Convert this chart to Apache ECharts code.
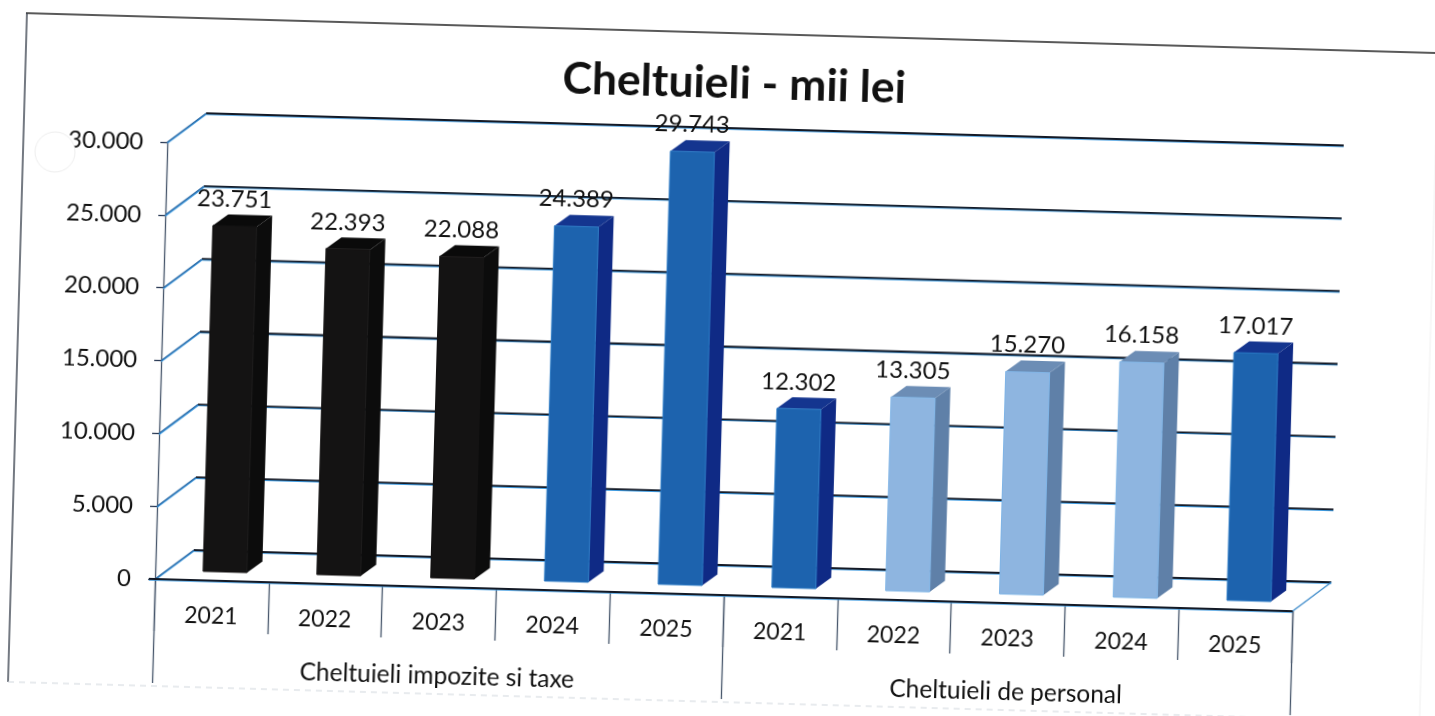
<!DOCTYPE html>
<html>
<head>
<meta charset="utf-8">
<title>Cheltuieli - mii lei</title>
<script src="https://cdn.jsdelivr.net/npm/echarts@6/dist/echarts.min.js"></script>
<style>
html,body{margin:0;padding:0;background:#fff;overflow:hidden;width:1435px;height:716px}
#chart{position:absolute;left:-50px;top:-50px;width:1535px;height:816px;transform-origin:205px 629px;transform:rotate(1.62deg)}
</style>
</head>
<body>
<div id="chart"></div>
<script>
const years = ['2021','2022','2023','2024','2025','2021','2022','2023','2024','2025'];
const groups = ['Cheltuieli impozite si taxe','Cheltuieli de personal'];
const values = [23751,22393,22088,24389,29743,12302,13305,15270,16158,17017];
const yTicks = [0,5000,10000,15000,20000,25000,30000];
const barTones = ['black','black','black','blue','blue','blue','light','light','light','blue'];

const tones = {
  black:{front:'#141313',side:'#0c0c0c',top:'#0a0a0a',edge:'#141313'},
  blue:{front:'#1d63ae',side:'#0f2a85',top:'#14358f',edge:'#2878c4'},
  light:{front:'#8eb5e0',side:'#5f80a8',top:'#6c8db5',edge:'#7fb4e6'}
};
const DEPTH_X = 38, DEPTH_Y = -30;
const BAR_W = 44, BAR_DX = 13, BAR_DY = -9, SIDE_X = 15, SIDE_Y = -11.5;
const fmt = v => String(v).replace(/\B(?=(\d{3})+$)/g,'.');
const FONT = 'Lato';

function renderWall(params, api){
  const v = api.value(1);
  const cs = params.coordSys;
  const y = api.coord([0, v])[1];
  const L = cs.x, R = cs.x + cs.width;
  const mk = (pts, color, w) => ({type:'polyline',shape:{points:pts},style:{stroke:color,lineWidth:w,fill:null}});
  const wall = [[L,y],[L+DEPTH_X,y+DEPTH_Y],[R+DEPTH_X,y+DEPTH_Y]];
  const children = [];
  children.push(mk(wall.map(p=>[p[0],p[1]+1]),'#3f9be0',1.5));
  children.push(mk(wall.slice(1),'#141a26',1.8));
  children.push(mk(wall.slice(0,2),'#2b6aa6',1.2));
  if (v === 0){
    children.push(mk([[L-6,y+1],[R,y+1]],'#3f9be0',1.5));
    children.push(mk([[L-6,y],[R,y]],'#141a26',2));
    children.push(mk([[R,y],[R+DEPTH_X,y+DEPTH_Y]],'#3f8ccb',1.3));
  }
  return {type:'group',children};
}

function renderBar(params, api){
  const i = api.value(0), v = api.value(1);
  const c = api.coord([i, v]), b = api.coord([i, 0]);
  const x0 = c[0] + BAR_DX - BAR_W/2, x1 = x0 + BAR_W;
  const yt = c[1] + BAR_DY, yb = b[1] + BAR_DY;
  const t = tones[barTones[i]];
  const poly = (pts, fill) => ({type:'polygon',shape:{points:pts},style:{fill}});
  return {type:'group',children:[
    poly([[x1,yt],[x1+SIDE_X,yt+SIDE_Y],[x1+SIDE_X,yb+SIDE_Y],[x1,yb]],t.side),
    poly([[x0,yt],[x0+SIDE_X,yt+SIDE_Y],[x1+SIDE_X,yt+SIDE_Y],[x1,yt]],t.top),
    {type:'rect',shape:{x:x0,y:yt,width:BAR_W,height:yb-yt},style:{fill:t.front,stroke:t.edge,lineWidth:1}},
    {type:'text',x:c[0]+BAR_DX-1,y:yt-27,style:{text:fmt(v),font:'24px '+FONT,fill:'#111',align:'center',verticalAlign:'middle'},z2:10}
  ]};
}

const chart = echarts.init(document.getElementById('chart'),null,{devicePixelRatio:1});
chart.setOption({
  animation:false,
  backgroundColor:'#fff',
  title:{text:'Cheltuieli - mii lei',left:765,top:90,textAlign:'center',
    textStyle:{fontFamily:FONT,fontWeight:'bold',fontSize:44.5,color:'#111'}},
  grid:{left:205,top:192,width:1138,height:437,containLabel:false,outerBoundsMode:'none'},
  xAxis:[
    {type:'category',data:years,position:'bottom',
      axisLine:{show:false},
      axisTick:{show:true,length:52,lineStyle:{color:'#47566b',width:1.3}},
      axisLabel:{margin:24,interval:0,fontFamily:FONT,fontSize:23,color:'#111'},
      splitLine:{show:false}},
    {type:'category',data:groups,position:'bottom',
      axisLine:{show:false},
      axisTick:{show:true,length:104,lineStyle:{color:'#47566b',width:1.3}},
      axisLabel:{margin:77,interval:0,fontFamily:FONT,fontSize:24.5,color:'#111'},
      splitLine:{show:false}}
  ],
  yAxis:{type:'value',min:0,max:30000,interval:5000,
    axisLine:{show:true,lineStyle:{color:'#47566b',width:1.3}},
    axisTick:{show:true,length:7,lineStyle:{color:'#2a3a55',width:1.3}},
    axisLabel:{margin:24,fontFamily:FONT,fontSize:24,color:'#111',formatter:v=>fmt(v)},
    splitLine:{show:false}},
  series:[
    {type:'custom',name:'walls',xAxisIndex:0,yAxisIndex:0,silent:true,z:1,clip:false,
      data:yTicks.map(t=>[0,t]),renderItem:renderWall},
    {type:'custom',name:'Cheltuieli',xAxisIndex:0,yAxisIndex:0,silent:true,z:2,clip:false,
      data:values.map((v,i)=>[i,v]),renderItem:renderBar}
  ],
  graphic:[
    {type:'line',z:0,shape:{x1:60,y1:67,x2:1495,y2:67},style:{stroke:'#222',lineWidth:1.5}},
    {type:'line',z:0,shape:{x1:61,y1:67,x2:61,y2:736},style:{stroke:'#39414d',lineWidth:1.4}},
    {type:'line',z:0,shape:{x1:61,y1:736,x2:1473,y2:736},style:{stroke:'#d2d8de',lineWidth:1.2,lineDash:[6,5]}},
    {type:'line',z:0,shape:{x1:1473,y1:90,x2:1473,y2:780},style:{stroke:'#f0f0f0',lineWidth:1}},
    {type:'circle',z:50,shape:{cx:93,cy:205,r:20},style:{fill:'#fff',stroke:'#eeeeee',lineWidth:1}}
  ]
});
</script>
</body>
</html>
